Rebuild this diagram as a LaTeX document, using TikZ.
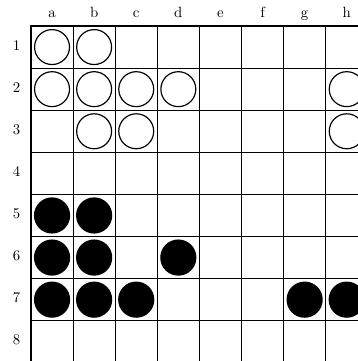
\documentclass[tikz,border=0pt]{standalone}
\begin{document}
\begin{tikzpicture}[
    x=1cm, y=-1cm,
    whitestone/.style={circle, draw, line width=0.8pt, fill=white,
        minimum size=0.83cm, inner sep=0pt},
    blackstone/.style={circle, fill=black, minimum size=0.86cm, inner sep=0pt},
    gridline/.style={line width=0.5pt},
    frameline/.style={line width=1.2pt}
]

%% Okraje obrázku (doska je vpravo a dole orezaná)
\useasboundingbox (-0.736,-0.618) rectangle (7.767,7.957);

%% Mriežka 8x8
\foreach \i in {1,...,7} {
    \draw[gridline] (\i,0) -- (\i,8);
    \draw[gridline] (0,\i) -- (8,\i);
}
\draw[frameline] (0,0) rectangle (8,8);

%% Popis stĺpcov a riadkov
\foreach \c [count=\i] in {a,b,c,d,e,f,g,h} {
    \node[anchor=base, inner sep=0pt] (col-\c) at (\i-0.5,-0.207) {\c};
}
\foreach \r in {1,...,8} {
    \node[anchor=base, inner sep=0pt] (row-\r) at (-0.34,\r-0.43) {\r};
}

%% Biele kamene
\foreach \name/\x/\y in {a1/1/1, b1/2/1, a2/1/2, b2/2/2, c2/3/2, d2/4/2,
    h2/8/2, b3/2/3, c3/3/3, h3/8/3} {
    \node[whitestone] (w-\name) at (\x-0.5,\y-0.5) {};
}

%% Čierne kamene
\foreach \name/\x/\y in {a5/1/5, b5/2/5, a6/1/6, b6/2/6, d6/4/6,
    a7/1/7, b7/2/7, c7/3/7, g7/7/7, h7/8/7} {
    \node[blackstone] (b-\name) at (\x-0.5,\y-0.5) {};
}

\end{tikzpicture}
\end{document}
